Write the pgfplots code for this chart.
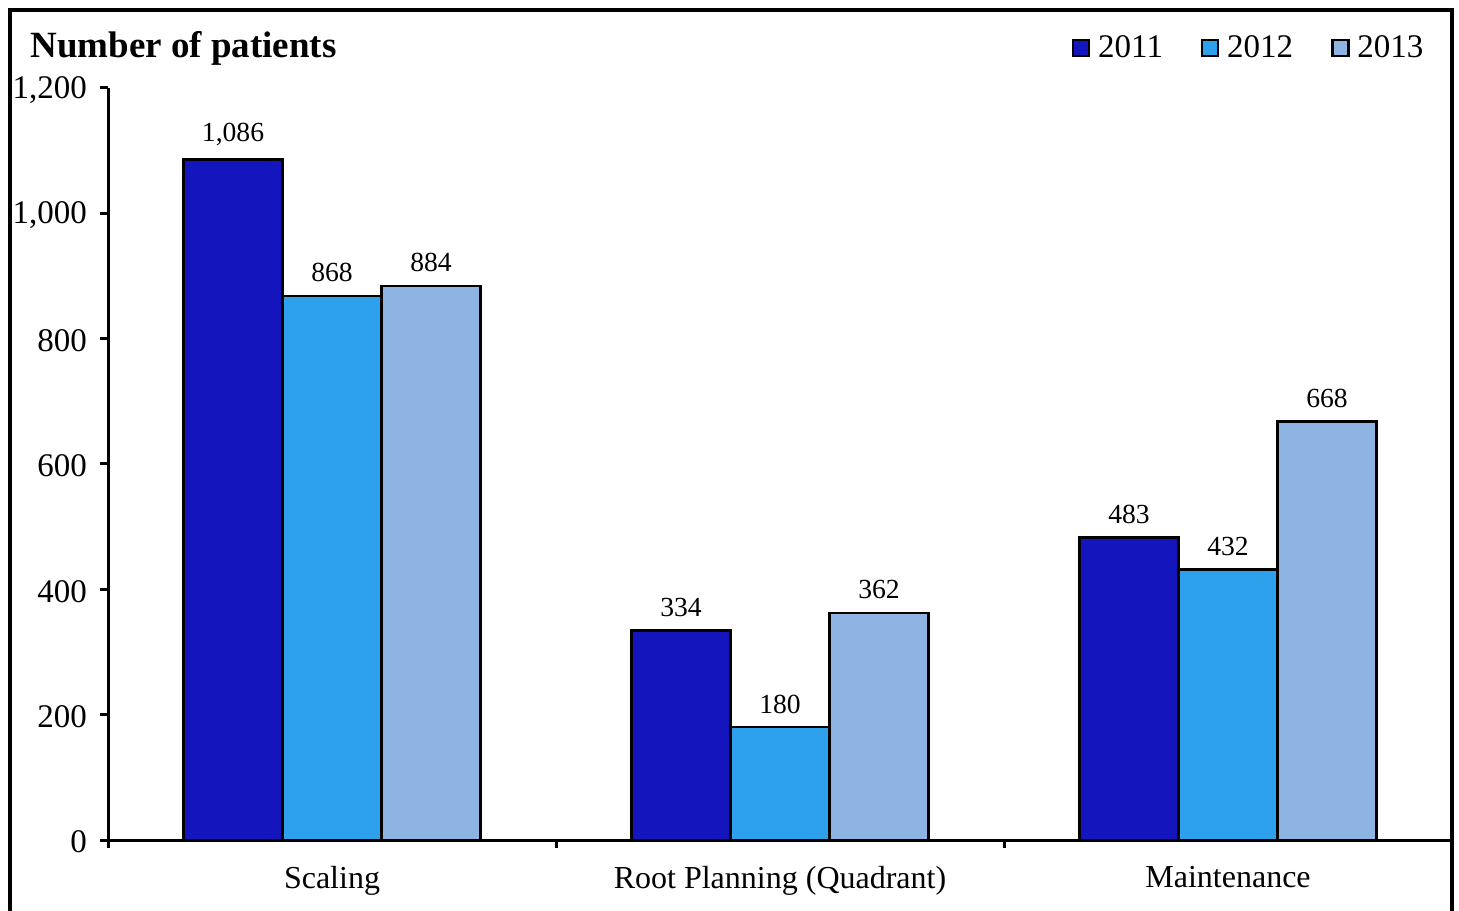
\documentclass[border=0pt]{standalone}
\usepackage{fontspec}
\setmainfont{Liberation Serif}
\usepackage{pgfplots}
\pgfplotsset{compat=1.18}
\definecolor{c2011}{RGB}{21,21,190}
\definecolor{c2012}{RGB}{46,161,237}
\definecolor{c2013}{RGB}{142,180,227}
\begin{document}
\begin{tikzpicture}
\useasboundingbox (0pt,0pt) rectangle (729.5pt,455pt);
\draw[line width=1.75pt] (5pt,-10pt) -- (5pt,450pt) -- (726pt,450pt) -- (726pt,-10pt);
\node[anchor=west, font=\fontsize{18.5}{22}\selectfont\bfseries, inner sep=0pt] at (15pt,431pt) {Number of patients};
\begin{axis}[
  at={(54pt,35pt)}, anchor=south west,
  scale only axis, width=672pt, height=376pt,
  clip=false,
  ybar, bar width=49.5pt,
  xmin=-0.5, xmax=2.5, ymin=0, ymax=1200,
  enlargelimits=false,
  axis lines*=left,
  axis line style={line width=1.5pt, black},
  every tick/.style={line width=1.5pt, black},
  tick align=outside,
  major tick length=4pt, minor tick length=4pt,
  xtick={0,1,2},
  xticklabels={Scaling, Root Planning (Quadrant), Maintenance},
  major x tick style={draw=none},
  minor xtick={-0.5,0.5,1.5},
  ytick={0,200,...,1200},
  /pgf/number format/assume math mode=true,
  /pgf/number format/1000 sep={,},
  yticklabel style={font=\fontsize{16.5}{19}\selectfont, xshift=-3pt, yshift=-1pt},
  xticklabel style={font=\fontsize{16}{19}\selectfont, yshift=-5.5pt},
  nodes near coords,
  nodes near coords style={font=\fontsize{13.8}{16}\selectfont, yshift=3pt, /pgf/number format/1000 sep={,}, /pgf/number format/assume math mode=true},
  legend columns=3,
  legend style={draw=none, at={(0.982,1.053)}, anchor=east, inner sep=0pt,
    font=\fontsize{16.5}{19}\selectfont,
    /tikz/every even column/.append style={column sep=17pt}},
  legend image code/.code={\draw[#1, line width=1.2pt] (0pt,-4pt) rectangle (8pt,4pt); \path[draw=none, fill=none] (10.5pt,0pt) circle (0pt);},
]
\addplot[fill=c2011, draw=black, line width=1.25pt, bar shift=-49.5pt] coordinates {(0,1086) (1,334) (2,483)};
\addplot[fill=c2012, draw=black, line width=1.25pt, bar shift=0pt] coordinates {(0,868) (1,180) (2,432)};
\addplot[fill=c2013, draw=black, line width=1.25pt, bar shift=49.5pt] coordinates {(0,884) (1,362) (2,668)};
\legend{2011,2012,2013}
\end{axis}
\end{tikzpicture}
\end{document}
